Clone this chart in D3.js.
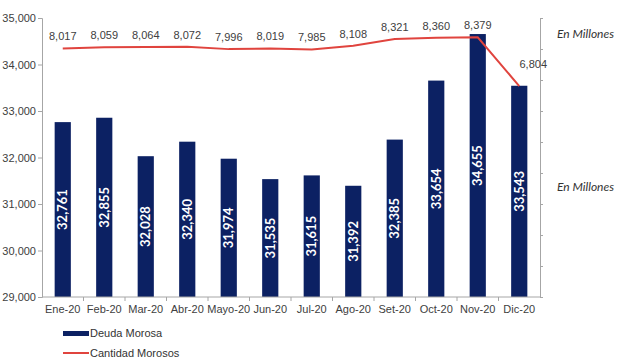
<!DOCTYPE html>
<html><head><meta charset="utf-8">
<script src="https://cdn.jsdelivr.net/npm/d3@7"></script>
<style>body{margin:0;background:#fff}svg{display:block}</style>
</head><body>
<script>
const categories = ["Ene-20","Feb-20","Mar-20","Abr-20","Mayo-20","Jun-20","Jul-20","Ago-20","Set-20","Oct-20","Nov-20","Dic-20"];
const deudaMorosa = [32761,32855,32028,32340,31974,31535,31615,31392,32385,33654,34655,33543];
const cantidadMorosos = [8017,8059,8064,8072,7996,8019,7985,8108,8321,8360,8379,6804];
const leftTicks = [29000,30000,31000,32000,33000,34000,35000];
const rightTicks = [0,1000,2000,3000,4000,5000,6000,7000,8000,9000];
const seriesNames = ["Deuda Morosa","Cantidad Morosos"];
const unitLabel = "En Millones";

(function(){
const W=640,H=364;
const svg=d3.select("body").append("svg").attr("width",W).attr("height",H);
const mL=42,mR=540,mT=18,mB=297;
const navy="#0c2163", red="#e0443e", axisCol="#a6a6a6", txt="#404040";

const x=d3.scaleBand().domain(categories).range([mL,mR]).padding(0);
const yL=d3.scaleLinear().domain([29000,35000]).range([mB,mT]);
const yR=d3.scaleLinear().domain([0,9000]).range([mB,mT]);
const bw=x.bandwidth()*0.39;
const cx=i=>x(categories[i])+x.bandwidth()/2;

// bars
svg.append("g").selectAll("rect").data(deudaMorosa).join("rect")
 .attr("x",(d,i)=>cx(i)-bw/2)
 .attr("y",d=>yL(d)).attr("width",bw).attr("height",d=>mB-yL(d))
 .attr("fill",navy);

// bar labels
svg.append("g").selectAll("text").data(deudaMorosa).join("text")
 .attr("transform",(d,i)=>`translate(${cx(i)+4.5},${(yL(d)+mB)/2}) rotate(-90)`)
 .attr("text-anchor","middle").attr("fill","#fff")
 .style("font-family","Lato, 'Open Sans', sans-serif").style("font-size","13px").style("font-weight","bold")
 .text(d=>d3.format(",")(d));

// left axis
const gL=svg.append("g").attr("transform",`translate(${mL},0)`)
 .call(d3.axisLeft(yL).tickValues(leftTicks).tickSize(4).tickPadding(2).tickFormat(d3.format(",")));
gL.selectAll("path,line").attr("stroke",axisCol);
gL.selectAll("text").attr("fill",txt).style("font-family","'Liberation Sans', Arial, sans-serif").style("font-size","11px");

// right axis (ticks only)
const gR=svg.append("g").attr("transform",`translate(${mR},0)`)
 .call(d3.axisRight(yR).tickValues(rightTicks).tickSize(3).tickFormat(""));
gR.selectAll("path,line").attr("stroke",axisCol);

// x axis
const gX=svg.append("g").attr("transform",`translate(0,${mB})`);
gX.append("line").attr("x1",mL).attr("x2",mR).attr("stroke",axisCol);
gX.selectAll("line.t").data(categories.slice(1)).join("line").attr("class","t")
 .attr("x1",d=>x(d)).attr("x2",d=>x(d)).attr("y1",0).attr("y2",4).attr("stroke",axisCol);
gX.selectAll("text").data(categories).join("text")
 .attr("x",d=>x(d)+x.bandwidth()/2).attr("y",16).attr("text-anchor","middle")
 .attr("fill",txt).style("font-family","'Liberation Sans', Arial, sans-serif").style("font-size","11px")
 .text(d=>d);

// line
const lineGen=d3.line().x((d,i)=>cx(i)).y(d=>yR(d));
svg.append("path").datum(cantidadMorosos).attr("d",lineGen).attr("fill","none")
 .attr("stroke",red).attr("stroke-width",2);
// labels: above each point; if the point drops steeply from the previous one, shift up-right
svg.append("g").selectAll("text").data(cantidadMorosos).join("text")
 .attr("x",(d,i)=>{const drop=i>0&&yR(d)-yR(cantidadMorosos[i-1])>15;return cx(i)+(drop?14:0);})
 .attr("y",(d,i)=>{const drop=i>0&&yR(d)-yR(cantidadMorosos[i-1])>15;return yR(d)-(drop?18:8);})
 .attr("text-anchor","middle").attr("fill",txt)
 .style("font-family","'Liberation Sans', Arial, sans-serif").style("font-size","11px")
 .text(d=>d3.format(",")(d));

// unit labels
[38,191].forEach(yy=>svg.append("text").attr("x",557).attr("y",yy).attr("fill","#333")
 .style("font-family","Lato, 'Open Sans', sans-serif").style("font-size","12px").style("font-style","italic")
 .text(unitLabel));

// legend
const lg=svg.append("g");
lg.append("rect").attr("x",63).attr("y",331).attr("width",26).attr("height",5).attr("fill",navy);
lg.append("line").attr("x1",63).attr("x2",89).attr("y1",353).attr("y2",353).attr("stroke",red).attr("stroke-width",2);
lg.selectAll("text").data(seriesNames).join("text")
 .attr("x",90).attr("y",(d,i)=>337+i*20).attr("fill","#333")
 .style("font-family","'Liberation Sans', Arial, sans-serif").style("font-size","11px")
 .text(d=>d);
})();
</script>
</body></html>
